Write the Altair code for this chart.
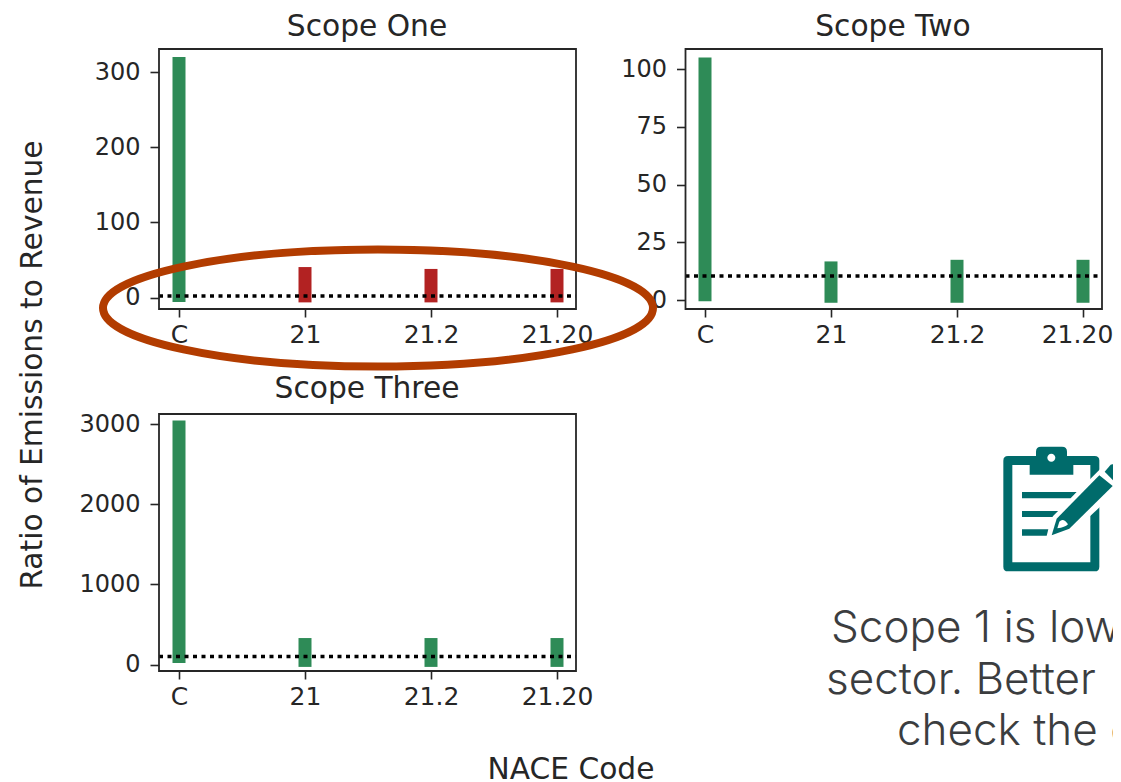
import altair as alt
import pandas as pd

# ---- data ----
codes = ["C", "21", "21.2", "21.20"]

scope1_high = [320, 40.5, 38, 38]
scope1_low = [-6, -6.5, -6.5, -6.5]
scope1_colors = ["#2e8b57", "#b22222", "#b22222", "#b22222"]
scope1_threshold = [2]
scope1_ticks = [0, 100, 200, 300]

scope2_high = [105, 16.7, 17.4, 17.4]
scope2_low = [-0.5, -1.2, -1.2, -1.2]
scope2_colors = ["#2e8b57", "#2e8b57", "#2e8b57", "#2e8b57"]
scope2_threshold = [10.4]
scope2_ticks = [0, 25, 50, 75, 100]

scope3_high = [3045, 330, 330, 330]
scope3_low = [20, -30, -30, -30]
scope3_colors = ["#2e8b57", "#2e8b57", "#2e8b57", "#2e8b57"]
scope3_threshold = [100]
scope3_ticks = [0, 1000, 2000, 3000]

# ---- layout, in page pixels ----
M = 8
W, H = 1105, 774
FONT = "DejaVu Sans"
INK = "#262626"
X_TICK_FONT = 25
Y_TICK_FONT = 24
TITLE_FONT = 29.7


def panel(high, low, colors, threshold, ticks, left, right, top, bottom, tick0, tickN, first, last,
          last_label_shift=0):
    bars = pd.DataFrame({"code": codes, "high": high, "low": low, "color": colors})
    xs = alt.Scale(type="point", domain=codes, range=[first - M, last - M], padding=0)
    ys = alt.Scale(domain=[0, ticks[-1]], range=[tick0 - M, tickN - M], nice=False, zero=False)
    y_axis = alt.Axis(
        orient="left", offset=-(left - M), domain=False, grid=False, values=ticks,
        labelFont=FONT, labelFontSize=Y_TICK_FONT, labelColor=INK, format="d",
        tickColor=INK, tickWidth=1.6, tickSize=9, labelPadding=10, labelOverlap=False,
    )
    x_axis_kw = dict(
        orient="bottom", offset=-(H - (bottom - M)), domain=False, grid=False,
        labelAngle=0, labelFont=FONT, labelFontSize=X_TICK_FONT, labelColor=INK,
        tickColor=INK, tickWidth=1.6, tickSize=8, labelPadding=5, labelOverlap=False,
    )
    if last_label_shift:
        x_axis_kw["labelOffset"] = alt.expr(f"datum.label == '21.20' ? {last_label_shift} : 0")
    b = alt.Chart(bars).mark_bar(size=13).encode(
        x=alt.X("code:N", scale=xs, sort=codes, title=None, axis=alt.Axis(**x_axis_kw)),
        y=alt.Y("high:Q", scale=ys, title=None, axis=y_axis),
        y2="low:Q",
        color=alt.Color("color:N", scale=None),
    )
    rule = alt.Chart(pd.DataFrame({"t": threshold})).mark_rule(
        color="black", strokeWidth=3.3, strokeDash=[4, 4.5]
    ).encode(
        x=alt.value(left - M), x2=alt.value(right - M),
        y=alt.Y("t:Q", scale=ys, title=None, axis=y_axis),
    )
    frame = alt.Chart(pd.DataFrame({"a": [0]})).mark_rect(
        fill="transparent", stroke=INK, strokeWidth=1.8
    ).encode(
        x=alt.value(left - M), x2=alt.value(right - M),
        y=alt.value(top - M), y2=alt.value(bottom - M),
    )
    return alt.layer(b, rule, frame)


def label(text, x, y, size=TITLE_FONT, angle=0, font=FONT, color=INK, align="center", clip=False, weight=400):
    return alt.Chart(pd.DataFrame({"t": [text]})).mark_text(
        font=font, fontSize=size, color=color, angle=angle, align=align,
        baseline="alphabetic", clip=clip, fontWeight=weight,
    ).encode(text="t:N", x=alt.value(x - M), y=alt.value(y - M))


def shape(path, x, y, size, **kw):
    return alt.Chart(pd.DataFrame({"a": [0]})).mark_point(shape=path, size=size, opacity=1, **kw).encode(
        x=alt.value(x - M), y=alt.value(y - M)
    )


TEAL = "#006b6b"
WHITE = "#ffffff"
UNIT = 4 / 9  # icon paths are written in 3x crop units with origin (800, 430)


def icon(path, fill=TEAL):
    return shape(path, 800, 430, UNIT, filled=True, fill=fill, clip=True)


board = "M624 78H884Q898 78 898 92V410Q898 424 884 424H624Q610 424 610 410V92Q610 78 624 78Z"
inner = "M637 105H871V397H637Z"
clip_top = "M689 105V78H708V65Q708 50 723 50H786Q801 50 801 65V78H820V134H689Z"
hole = "M742 83A12 12 0 1 0 766 83A12 12 0 1 0 742 83Z"
line1 = "M666 186H830L812 205H666Z"
line2 = "M666 243H775L757 261H666Z"
line3 = "M666 298H745L740 317H666Z"
halo = "M745 326L760 258L900 118L960 175L820 305Z"
pencil = "M755 316L770 266L898 136L938 168L808 296Z"
eraser = "M914 125L932 104Q938 100 945 106L961 122Q965 128 961 134L943 155Z"
tip = "M772 295L778 275Q790 262 804 283Q795 292 772 295Z"

ellipse = "M-1 0A1 0.213 0 1 0 1 0A1 0.213 0 1 0 -1 0Z"

NOTE = dict(size=44, font="Inter", color="#3b3d3f", align="left", clip=True, weight=300)

chart = alt.layer(
    panel(scope1_high, scope1_low, scope1_colors, scope1_threshold, scope1_ticks,
          159, 576, 49, 309, 297.5, 72, 179, 557),
    panel(scope2_high, scope2_low, scope2_colors, scope2_threshold, scope2_ticks,
          685.5, 1102, 49, 309, 300, 69, 705, 1083, last_label_shift=-6),
    panel(scope3_high, scope3_low, scope3_colors, scope3_threshold, scope3_ticks,
          159, 576, 414, 671, 664.5, 424, 179, 557),
    label("Scope One", 367, 36),
    label("Scope Two", 893, 36),
    label("Scope Three", 367, 398),
    label("Ratio of Emissions to Revenue", 42, 365, angle=270),
    label("NACE Code", 571, 779),
    label("Scope 1 is low", 831, 642, **NOTE),
    label("sector. Better", 826, 694, **NOTE),
    label("check the c", 897, 745, **NOTE),
    icon(board), icon(inner, WHITE), icon(clip_top), icon(hole, WHITE),
    icon(line1), icon(line2), icon(line3),
    icon(halo, WHITE), icon(pencil), icon(eraser), icon(tip, WHITE),
    shape(ellipse, 378, 308, 550 ** 2, filled=False, stroke="#b23c00", strokeWidth=8, clip=False),
).resolve_scale(x="independent", y="independent").resolve_axis(
    x="independent", y="independent"
).properties(
    width=W, height=H, padding=0, autosize="none", background="white"
).configure_view(stroke=None)

chart.save("out.html", embed_options={"renderer": "svg", "actions": False})
